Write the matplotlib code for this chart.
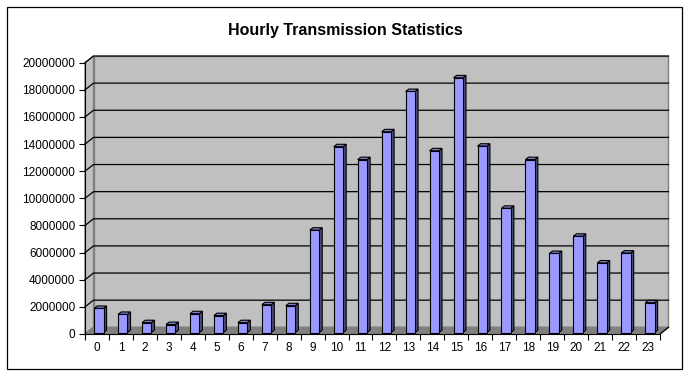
import numpy as np
import matplotlib
matplotlib.use("Agg")
import matplotlib.pyplot as plt
from matplotlib.patches import Polygon, Rectangle
from matplotlib.ticker import StrMethodFormatter

# data
hours = list(range(24))
values = [1780000, 1340000, 730000, 590000, 1390000, 1250000, 730000, 2050000,
          1980000, 7550000, 13700000, 12750000, 14800000, 17770000, 13400000,
          18780000, 13740000, 9160000, 12750000, 5830000, 7100000, 5130000,
          5860000, 2200000]
y_ticks = list(range(0, 20000001, 2000000))
title = "Hourly Transmission Statistics"

plt.rcParams['font.family'] = ['Liberation Sans', 'DejaVu Sans']

W, H = 692, 378
fig = plt.figure(figsize=(W / 100, H / 100), dpi=100)
fig.patch.set_facecolor("white")

# front plane of the plot in pixels
left, right, y0, ytop = 85, 660, 334, 62.7
ax = fig.add_axes([left / W, (H - y0) / H, (right - left) / W, (y0 - ytop) / H])
ax.set_xlim(-0.5, 23.5)
ax.set_ylim(0, 20000000)
ax.patch.set_visible(False)

# depth of the 3d box in pixels -> data units
DX, DY = 8.5, 6.7
p0, p1 = ax.transData.transform([(0, 0), (1, 1000000)])
ddx = DX / (p1[0] - p0[0])
ddy = DY / (p1[1] - p0[1]) * 1000000

xl, xr, ymax = -0.5, 23.5, 20000000
wall = "#C0C0C0"
edge = "#808080"

# back wall, side wall, floor
ax.add_patch(Polygon([(xl + ddx, ddy), (xr + ddx, ddy), (xr + ddx, ymax + ddy),
                      (xl + ddx, ymax + ddy)], closed=True, fc=wall, ec=edge,
                     lw=1, clip_on=False, zorder=1))
ax.add_patch(Polygon([(xl, 0), (xl + ddx, ddy), (xl + ddx, ymax + ddy), (xl, ymax)],
                     closed=True, fc=wall, ec=edge, lw=1, clip_on=False, zorder=1))
ax.add_patch(Polygon([(xl, 0), (xr, 0), (xr + ddx, ddy), (xl + ddx, ddy)],
                     closed=True, fc="#808080", ec="#808080", lw=1,
                     clip_on=False, zorder=1))

# gridlines on side + back wall
for v in y_ticks[1:]:
    ax.plot([xl, xl + ddx, xr + ddx], [v, v + ddy, v + ddy], color="black",
            lw=0.9, clip_on=False, zorder=2)
ax.plot([xr, xr + ddx], [0, ddy], color="black", lw=0.9, clip_on=False, zorder=2)

# 3d bars
bw = 0.39
d0, d1 = 0.22, 0.58
front_c, side_c, top_c = "#9999FF", "#4C4C80", "#7F7FCC"
for x, v in zip(hours, values):
    fx, fy = d0 * ddx, d0 * ddy
    bx, by = d1 * ddx, d1 * ddy
    a, b = x - bw / 2 + fx, x + bw / 2 + fx
    ax.add_patch(Polygon([(b, fy), (b + bx - fx, by), (b + bx - fx, v + by), (b, v + fy)],
                         closed=True, fc=side_c, ec="black", lw=0.8,
                         clip_on=False, zorder=3))
    ax.add_patch(Polygon([(a, v + fy), (b, v + fy), (b + bx - fx, v + by),
                          (a + bx - fx, v + by)], closed=True, fc=top_c,
                         ec="black", lw=0.8, clip_on=False, zorder=3))
    ax.add_patch(Rectangle((a, fy), bw, v, fc=front_c, ec="black", lw=0.8,
                           clip_on=False, zorder=4))

# axes and ticks
for s in ["top", "right"]:
    ax.spines[s].set_visible(False)
for s in ["left", "bottom"]:
    ax.spines[s].set_linewidth(0.8)
    ax.spines[s].set_zorder(5)
ax.set_yticks(y_ticks)
ax.yaxis.set_major_formatter(StrMethodFormatter("{x:.0f}"))
ax.set_xticks(np.arange(-0.5, 24, 1))
ax.set_xticklabels([])
ax.set_xticks(hours, minor=True)
ax.set_xticklabels([str(h) for h in hours], minor=True)
ax.tick_params(axis="both", which="major", length=4, width=0.8, labelsize=8.5)
ax.tick_params(axis="x", which="minor", length=0, labelsize=8.5, pad=6)
ax.tick_params(axis="y", pad=3)

fig.text(345 / W, 1 - 30 / H, title, ha="center", va="center",
         fontsize=11.5, fontweight="bold")

# chart border
fig.add_artist(Rectangle((7 / W, (H - 369) / H), 675 / W, 362 / H,
                         transform=fig.transFigure, fill=False, ec="black", lw=0.9))

fig.savefig("out.png", dpi=100)
